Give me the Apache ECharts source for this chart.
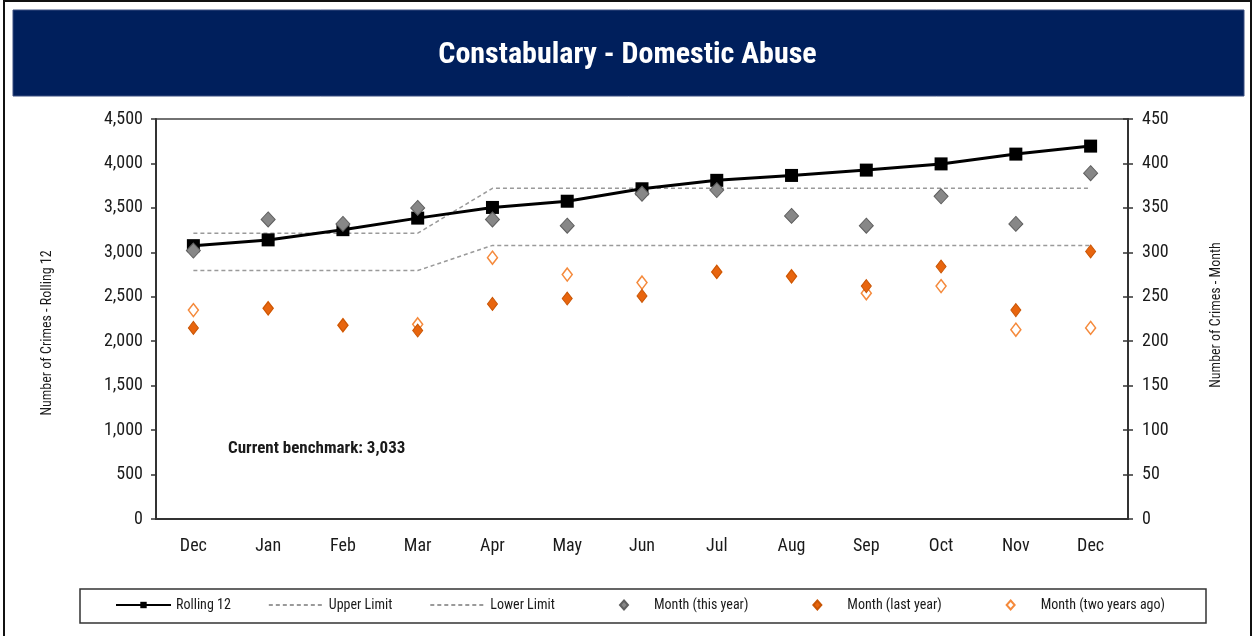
<!DOCTYPE html>
<html>
<head>
<meta charset="utf-8">
<script src="https://cdn.jsdelivr.net/npm/echarts@6/dist/echarts.min.js"></script>
<style>
  html, body { margin: 0; padding: 0; background: #fff; }
  #chart { width: 1255px; height: 636px; }
</style>
</head>
<body>
<div id="chart"></div>
<script>
const months = ['Dec', 'Jan', 'Feb', 'Mar', 'Apr', 'May', 'Jun', 'Jul', 'Aug', 'Sep', 'Oct', 'Nov', 'Dec'];

// left axis (rolling 12 months)
const rolling12 = [3075, 3140, 3255, 3385, 3505, 3575, 3715, 3810, 3865, 3925, 3995, 4105, 4195];
const upperLimit = [3215, 3215, 3215, 3215, 3720, 3720, 3720, 3720, 3720, 3720, 3720, 3720, 3720];
const lowerLimit = [2795, 2795, 2795, 2795, 3078, 3078, 3078, 3078, 3078, 3078, 3078, 3078, 3078];

// right axis (monthly)
const monthThisYear = [302, 337, 332, 350, 337, 330, 366, 370, 341, 330, 363, 332, 389];
const monthLastYear = [215, 237, 218, 212, 242, 248, 251, 278, 273, 262, 284, 235, 301];
const monthTwoYearsAgo = [235, 237, 218, 219, 294, 275, 266, 278, 273, 254, 262, 213, 215];

const benchmark = '3,033';

const FONT = "'Liberation Sans Narrow', 'Arial Narrow', 'Roboto Condensed', sans-serif";
const TXT = '#1a1a1a';

const chart = echarts.init(document.getElementById('chart'));

const option = {
  animation: false,
  textStyle: { fontFamily: FONT },
  title: {
    text: 'Constabulary - Domestic Abuse',
    left: 'center',
    top: 35,
    textStyle: { color: '#fff', fontSize: 30, fontWeight: 'bold', fontFamily: FONT }
  },
  graphic: [
    { type: 'rect', z: -10, shape: { x: 4, y: 1, width: 1247, height: 660 },
      style: { fill: 'none', stroke: '#111', lineWidth: 2 } },
    { type: 'rect', z: -5, shape: { x: 13, y: 10, width: 1231, height: 86 },
      style: { fill: '#001f5c', stroke: '#3a4f80', lineWidth: 1 } },
    { type: 'rect', z: -5, shape: { x: 80, y: 589, width: 1126, height: 34 },
      style: { fill: '#fff', stroke: '#333', lineWidth: 1.5 } },
    { type: 'text', x: 228, y: 449,
      style: { text: 'Current benchmark: ' + benchmark, font: 'bold 17px ' + FONT,
               fill: TXT, verticalAlign: 'middle' } },
    { type: 'text', x: 47, y: 333, rotation: Math.PI / 2,
      style: { text: 'Number of Crimes - Rolling 12', font: '14px ' + FONT,
               fill: TXT, align: 'center', verticalAlign: 'middle' } },
    { type: 'text', x: 1216, y: 315, rotation: Math.PI / 2,
      style: { text: 'Number of Crimes - Month', font: '14px ' + FONT,
               fill: TXT, align: 'center', verticalAlign: 'middle' } }
  ],
  legend: [
    {
      left: 115, top: 598, padding: 0, itemWidth: 55, itemHeight: 8, itemGap: 37,
      textStyle: { fontSize: 14, color: TXT, fontFamily: FONT },
      data: [
        'Rolling 12',
        { name: 'Upper Limit', itemStyle: { opacity: 0 } },
        { name: 'Lower Limit', itemStyle: { opacity: 0 } }
      ]
    },
    {
      left: 619, top: 598, padding: 0, itemWidth: 8, itemHeight: 9, itemGap: 64,
      textStyle: { fontSize: 14, color: TXT, fontFamily: FONT, padding: [0, 0, 0, 21] },
      data: ['Month (this year)', 'Month (last year)', 'Month (two years ago)']
    }
  ],
  grid: {
    left: 156, right: 127, top: 119, bottom: 117,
    show: true, borderColor: '#444', borderWidth: 1.5, backgroundColor: '#fff'
  },
  xAxis: {
    type: 'category',
    data: months,
    boundaryGap: true,
    axisLine: { lineStyle: { color: '#333', width: 2 } },
    axisTick: { length: 5, lineStyle: { color: '#333', width: 1.5 } },
    axisLabel: { color: TXT, fontSize: 18, margin: 18, fontFamily: FONT }
  },
  yAxis: [
    {
      type: 'value', min: 0, max: 4500, interval: 500, position: 'left',
      axisLine: { show: true, lineStyle: { color: '#333', width: 2 } },
      axisTick: { show: true, length: 5, lineStyle: { color: '#333', width: 1.5 } },
      axisLabel: { color: TXT, fontSize: 18, margin: 13, fontFamily: FONT,
                   formatter: v => v.toLocaleString('en-US') },
      splitLine: { show: false }
    },
    {
      type: 'value', min: 0, max: 450, interval: 50, position: 'right',
      axisLine: { show: true, lineStyle: { color: '#333', width: 2 } },
      axisTick: { show: true, length: 5, lineStyle: { color: '#333', width: 1.5 } },
      axisLabel: { color: TXT, fontSize: 18, margin: 14, fontFamily: FONT },
      splitLine: { show: false }
    },
    {
      type: 'value', min: 0, max: 450, interval: 50, position: 'right',
      axisLine: { show: false },
      axisTick: { show: true, inside: true, length: 5, lineStyle: { color: '#333', width: 1.5 } },
      axisLabel: { show: false },
      splitLine: { show: false }
    }
  ],
  series: [
    {
      name: 'Upper Limit', type: 'line', data: upperLimit, yAxisIndex: 0,
      symbol: 'none', z: 2,
      lineStyle: { color: '#9a9a9a', width: 1.5, type: [4, 3] },
      itemStyle: { color: '#9a9a9a' }
    },
    {
      name: 'Lower Limit', type: 'line', data: lowerLimit, yAxisIndex: 0,
      symbol: 'none', z: 2,
      lineStyle: { color: '#9a9a9a', width: 1.5, type: [4, 3] },
      itemStyle: { color: '#9a9a9a' }
    },
    {
      name: 'Rolling 12', type: 'line', data: rolling12, yAxisIndex: 0,
      symbol: 'rect', symbolSize: 13, z: 3,
      lineStyle: { color: '#000', width: 3 },
      itemStyle: { color: '#000' }
    },
    {
      name: 'Month (this year)', type: 'scatter', data: monthThisYear, yAxisIndex: 1,
      symbol: 'diamond', symbolSize: [14, 15], z: 6,
      itemStyle: { color: '#878787', borderColor: '#5f5f5f', borderWidth: 1, opacity: 1 }
    },
    {
      name: 'Month (two years ago)', type: 'scatter', data: monthTwoYearsAgo, yAxisIndex: 1,
      symbol: 'diamond', symbolSize: [10, 13], z: 4,
      itemStyle: { color: '#fff', borderColor: '#f58a3c', borderWidth: 1.5, opacity: 1 }
    },
    {
      name: 'Month (last year)', type: 'scatter', data: monthLastYear, yAxisIndex: 1,
      symbol: 'diamond', symbolSize: [10, 13], z: 5,
      itemStyle: { color: '#e8650e', borderColor: '#c85505', borderWidth: 1, opacity: 1 }
    }
  ]
};

chart.setOption(option);
</script>
</body>
</html>
